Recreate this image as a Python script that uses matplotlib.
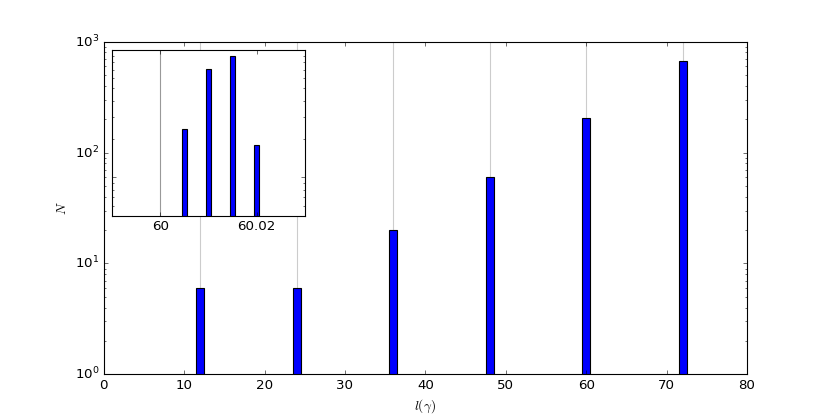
import matplotlib
matplotlib.use("Agg")
import matplotlib.pyplot as plt

# main histogram: l(gamma) bins and counts
lengths = [12, 24, 36, 48, 60, 72]
counts = [6, 6, 20, 60, 203, 670]

# inset: zoom on the bin at 60
inset_x = [60.005, 60.010, 60.015, 60.020]
inset_counts = [24, 71, 90, 18]

plt.style.use("classic")
fig = plt.figure(figsize=(10.375, 5.2), dpi=80, facecolor="white")
ax = fig.add_subplot(111)

for x in lengths:
    ax.axvline(x, color="0.8", lw=1, zorder=0)
ax.bar(lengths, counts, width=1.0, align="center", color="blue", edgecolor="black", zorder=2)
ax.set_yscale("log")
ax.set_xlim(0, 80)
ax.set_ylim(1, 1000)
ax.set_xlabel(r"$l(\gamma)$")
ax.set_ylabel(r"$N$")

# inset
ins = fig.add_axes([0.135, 0.481, 0.2325, 0.399])
ins.axvline(60, color="0.6", lw=1, zorder=0)
ins.bar(inset_x, inset_counts, width=0.001, align="center", color="blue", edgecolor="black", zorder=2)
ins.set_yscale("log")
ins.set_xlim(59.99, 60.03)
ins.set_ylim(5, 100)
ins.set_xticks([60, 60.02])
ins.set_xticklabels(["60", "60.02"])
ins.set_yticklabels([])
ins.yaxis.set_major_formatter(plt.NullFormatter())
ins.yaxis.set_minor_formatter(plt.NullFormatter())

plt.savefig("out.png", dpi=80, facecolor="white")
